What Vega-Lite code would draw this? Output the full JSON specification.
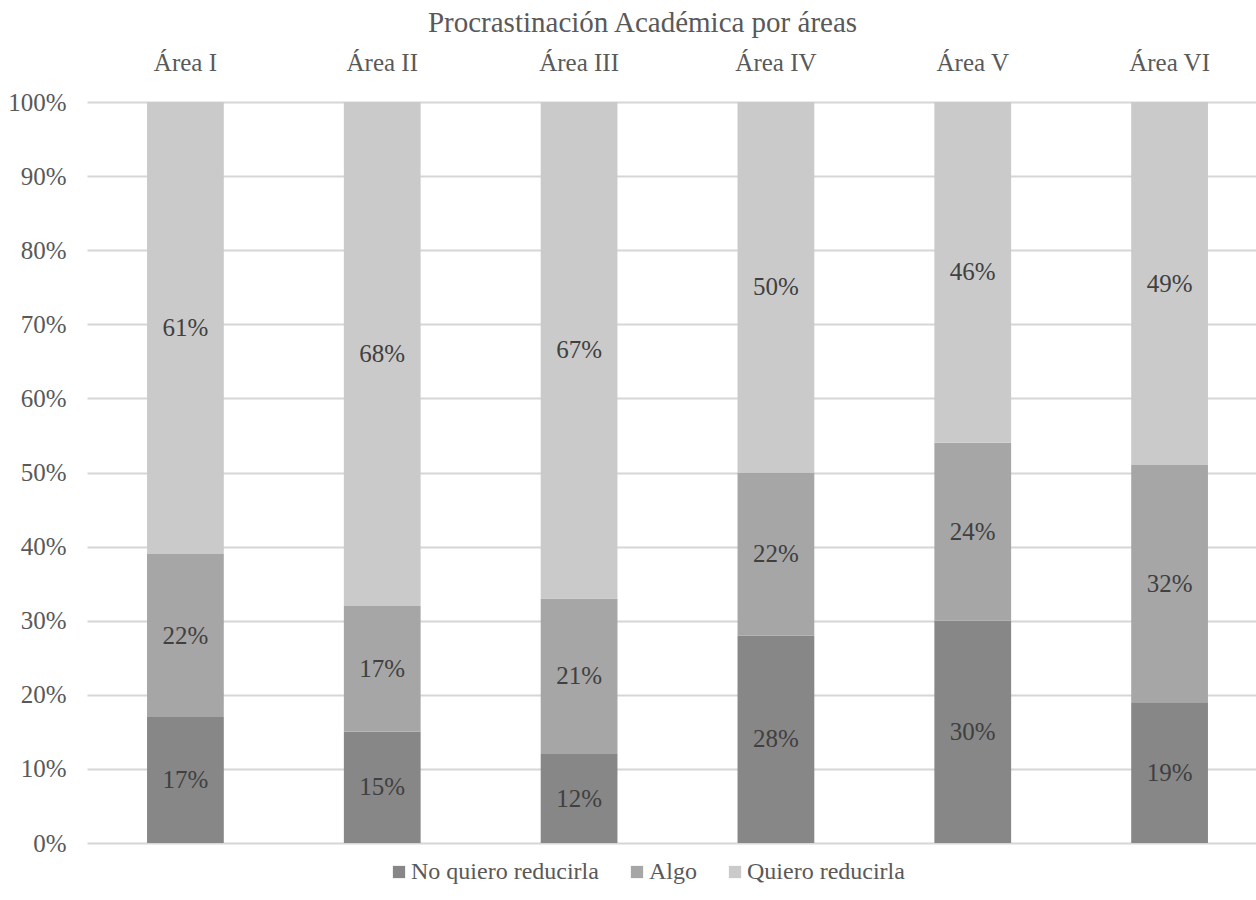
{
  "$schema": "https://vega.github.io/schema/vega-lite/v6.json",
  "width": 1169,
  "height": 741,
  "autosize": {"type": "none"},
  "padding": {"left": 87, "top": 102, "right": 0, "bottom": 57},
  "background": "white",
  "title": {
    "text": "Procrastinación Académica por áreas",
    "font": "Liberation Serif",
    "fontSize": 29,
    "fontWeight": "normal",
    "color": "#595959",
    "anchor": "middle",
    "dx": -29,
    "offset": 12
  },
  "data": {
    "values": [
      {"area": "Área I", "nivel": "No quiero reducirla", "orden": 1, "valor": 0.17},
      {"area": "Área I", "nivel": "Algo", "orden": 2, "valor": 0.22},
      {"area": "Área I", "nivel": "Quiero reducirla", "orden": 3, "valor": 0.61},
      {"area": "Área II", "nivel": "No quiero reducirla", "orden": 1, "valor": 0.15},
      {"area": "Área II", "nivel": "Algo", "orden": 2, "valor": 0.17},
      {"area": "Área II", "nivel": "Quiero reducirla", "orden": 3, "valor": 0.68},
      {"area": "Área III", "nivel": "No quiero reducirla", "orden": 1, "valor": 0.12},
      {"area": "Área III", "nivel": "Algo", "orden": 2, "valor": 0.21},
      {"area": "Área III", "nivel": "Quiero reducirla", "orden": 3, "valor": 0.67},
      {"area": "Área IV", "nivel": "No quiero reducirla", "orden": 1, "valor": 0.28},
      {"area": "Área IV", "nivel": "Algo", "orden": 2, "valor": 0.22},
      {"area": "Área IV", "nivel": "Quiero reducirla", "orden": 3, "valor": 0.50},
      {"area": "Área V", "nivel": "No quiero reducirla", "orden": 1, "valor": 0.30},
      {"area": "Área V", "nivel": "Algo", "orden": 2, "valor": 0.24},
      {"area": "Área V", "nivel": "Quiero reducirla", "orden": 3, "valor": 0.46},
      {"area": "Área VI", "nivel": "No quiero reducirla", "orden": 1, "valor": 0.19},
      {"area": "Área VI", "nivel": "Algo", "orden": 2, "valor": 0.32},
      {"area": "Área VI", "nivel": "Quiero reducirla", "orden": 3, "valor": 0.49}
    ]
  },
  "encoding": {
    "x": {
      "field": "area",
      "type": "nominal",
      "sort": null,
      "scale": {"range": [0, 1181], "paddingInner": 0.61, "paddingOuter": 0.305},
      "axis": {
        "orient": "top",
        "title": null,
        "labelAngle": 0,
        "ticks": false,
        "domain": false,
        "labelFont": "Liberation Serif",
        "labelFontSize": 25,
        "labelColor": "#595959",
        "labelPadding": 27
      }
    },
    "order": {"field": "orden", "type": "quantitative"}
  },
  "layer": [
    {
      "mark": {"type": "bar"},
      "encoding": {
        "y": {
          "field": "valor",
          "type": "quantitative",
          "stack": "zero",
          "scale": {"domain": [0, 1]},
          "axis": {
            "title": null,
            "format": ".0%",
            "values": [0, 0.1, 0.2, 0.3, 0.4, 0.5, 0.6, 0.7, 0.8, 0.9, 1],
            "labelOverlap": false,
            "ticks": false,
            "domain": false,
            "gridColor": "#d6d6d6",
            "gridWidth": 2,
            "labelFont": "Liberation Serif",
            "labelFontSize": 25,
            "labelColor": "#595959",
            "labelPadding": 21
          }
        },
        "color": {
          "field": "nivel",
          "type": "nominal",
          "sort": ["No quiero reducirla", "Algo", "Quiero reducirla"],
          "scale": {
            "domain": ["No quiero reducirla", "Algo", "Quiero reducirla"],
            "range": ["#878787", "#a6a6a6", "#cacaca"]
          },
          "legend": {
            "title": null,
            "orient": "none",
            "direction": "horizontal",
            "legendX": 300,
            "legendY": 758,
            "symbolType": "square",
            "symbolSize": 150,
            "symbolStrokeWidth": 0,
            "labelFont": "Liberation Serif",
            "labelFontSize": 24,
            "labelColor": "#595959",
            "labelOffset": 0,
            "labelLimit": 400,
            "columnPadding": 26
          }
        }
      }
    },
    {
      "mark": {
        "type": "text",
        "font": "Liberation Serif",
        "fontSize": 25,
        "color": "#404040",
        "baseline": "middle"
      },
      "encoding": {
        "y": {
          "field": "valor",
          "type": "quantitative",
          "stack": "zero",
          "bandPosition": 0.5,
          "axis": {
            "title": null,
            "format": ".0%",
            "values": [0, 0.1, 0.2, 0.3, 0.4, 0.5, 0.6, 0.7, 0.8, 0.9, 1],
            "labelOverlap": false,
            "ticks": false,
            "domain": false,
            "gridColor": "#d6d6d6",
            "gridWidth": 2,
            "labelFont": "Liberation Serif",
            "labelFontSize": 25,
            "labelColor": "#595959",
            "labelPadding": 21
          }
        },
        "text": {"field": "valor", "type": "quantitative", "format": ".0%"}
      }
    }
  ],
  "config": {
    "view": {"stroke": null}
  }
}
